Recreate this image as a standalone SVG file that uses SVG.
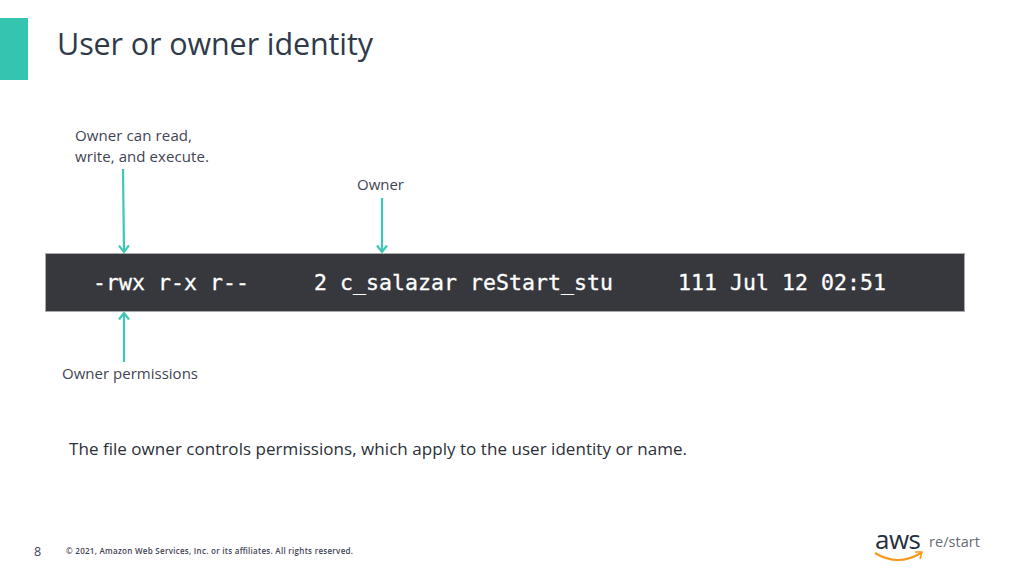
<svg xmlns="http://www.w3.org/2000/svg" width="1031" height="577" viewBox="0 0 1031 577">
<style>
.t{font-family:"Open Sans","Noto Sans","Liberation Sans",sans-serif;fill:#3f4454}
.l{font-size:15px}
.c{stroke:#3cc8b4;stroke-width:2.2;fill:none}
.m{font-family:"DejaVu Sans Mono","Liberation Mono",monospace;font-size:21.5px;fill:#fff;stroke:#fff;stroke-width:.3;white-space:pre}
</style>
<defs>
<marker id="a" markerUnits="userSpaceOnUse" markerWidth="14" markerHeight="14" refX="10" refY="7" orient="auto"><path d="M3.5 2L10 7L3.5 12" fill="none" stroke="#3cc8b4" stroke-width="2.2"/></marker>
</defs>
<rect width="1031" height="577" fill="#fff"/>
<rect id="accent" x="0" y="18" width="28" height="62" fill="#35c4b0"/>
<text id="title" class="t" x="57" y="55" font-size="30.5" textLength="316" style="fill:#2f3a4a">User or owner identity</text>
<g id="terminal">
<rect x="45.5" y="253.5" width="919" height="58" fill="#37383e" stroke="#aaa" stroke-width="1"/>
<text class="m" x="93" y="290" textLength="793">-rwx r-x r--     2 c_salazar reStart_stu     111 Jul 12 02:51</text>
</g>
<g id="label-rwx"><text class="t l" x="75" y="141" textLength="117">Owner can read,</text><text class="t l" x="75" y="162" textLength="134">write, and execute.</text></g>
<g id="label-owner"><text class="t l" x="357" y="190" textLength="47">Owner</text></g>
<g id="label-perms"><text class="t l" x="62" y="379" textLength="136">Owner permissions</text></g>
<g id="connectors">
<path class="c" d="M123 169L124 252" marker-end="url(#a)"/>
<path class="c" d="M382 198V252" marker-end="url(#a)"/>
<path class="c" d="M124 362V313" marker-end="url(#a)"/>
</g>
<text id="caption" class="t" x="69" y="455" font-size="17" textLength="618" style="fill:#2b2f38">The file owner controls permissions, which apply to the user identity or name.</text>
<g id="footer">
<text class="t" x="34" y="556" font-size="12.5">8</text>
<text class="t" x="66" y="554" font-size="8" font-weight="600" textLength="287">© 2021, Amazon Web Services, Inc. or its affiliates. All rights reserved.</text>
</g>
<g id="logo">
<text x="875" y="549" font-family="'Open Sans','Liberation Sans',sans-serif" font-size="26" font-weight="500" fill="#252f3e" textLength="46">aws</text>
<path d="M875 553Q898 567 921 553" fill="none" stroke="#f79a1c" stroke-width="2.2"/>
<path d="M915 552L922 552L920 559" fill="none" stroke="#f79a1c" stroke-width="1.6"/>
<text x="929" y="547" font-family="'Open Sans','Liberation Sans',sans-serif" font-size="14.5" fill="#666b75" textLength="51">re/start</text>
</g>
</svg>
